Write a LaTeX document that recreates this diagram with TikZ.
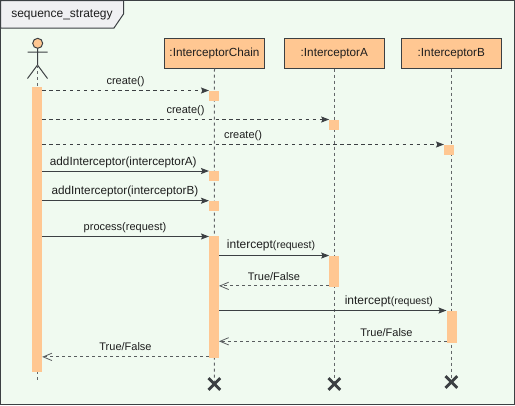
\documentclass[tikz,border=0pt]{standalone}
\usepackage{fontspec}
\setmainfont{Liberation Sans}
\usetikzlibrary{arrows.meta}
\definecolor{bgc}{RGB}{240,250,240}
\definecolor{ink}{RGB}{60,64,67}
\definecolor{act}{RGB}{255,199,146}
\definecolor{tabc}{RGB}{240,240,242}
\definecolor{lbl}{RGB}{30,30,30}
\newcommand{\fsm}{\fontsize{8.25}{10}\selectfont}
\newcommand{\fad}{\fontsize{8.8}{10}\selectfont}
\newcommand{\fmd}{\fontsize{9}{11}\selectfont}
\newcommand{\fsn}{\fontsize{7.9}{10}\selectfont}
\tikzset{
  x=0.75pt,y=-0.75pt,
  part/.style={draw=ink,fill=act,line width=0.75pt,minimum width=75pt,minimum height=22.5pt,inner sep=0pt,outer sep=0pt,text=lbl,font=\fad},
  bar/.style={fill=act,draw=none,minimum width=7.5pt,inner sep=0pt,outer sep=0pt},
  life/.style={draw=ink!80!white,line width=0.75pt,dash pattern=on 2.25pt off 2.25pt},
  msg/.style={draw=ink,line width=0.75pt,-{Stealth[length=6pt,width=4.5pt,inset=1pt,fill=ink]}},
  dmsg/.style={msg,dash pattern=on 2.6pt off 2.6pt},
  rmsg/.style={draw=ink!85!white,line width=0.75pt,dash pattern=on 2.25pt off 2.25pt,-{Straight Barb[length=6.5pt,width=5.5pt,line width=0.6pt]}},
  lab/.style={text=lbl,font=\fsm,inner sep=0pt},
  cross/.style={draw=ink,line width=2.1pt}
}
\begin{document}
\begin{tikzpicture}
\useasboundingbox (0,0) rectangle (515,405);
\fill[white] (0,0) rectangle (515,405);
\draw[draw=ink,fill=bgc,line width=0.75pt] (0.5,0.5) rectangle (514.5,404);
\draw[draw=ink,fill=tabc,line width=0.75pt] (0.5,0.5) -- (123.5,0.5) -- (123.5,14) -- (114,28) -- (0.5,28) -- cycle;
\node[lab,font=\fmd,anchor=west] (title) at (11,15) {sequence\_strategy};
% participants
\node[part] (chain) at (214.5,53.5) {:InterceptorChain};
\node[part] (ia) at (334.3,53.5) {:InterceptorA};
\node[part] (ib) at (451.3,53.5) {:InterceptorB};
% actor
\coordinate (foot) at (37.5,65);
\coordinate (lfoot) at (27.5,78.5);
\coordinate (rfoot) at (47.5,78.5);
\node[circle,draw=ink,fill=act,line width=0.75pt,minimum size=7.5pt,inner sep=0pt,outer sep=0pt] (head) at (37.7,43.3) {};
\coordinate (larm) at (27.5,52);
\coordinate (rarm) at (47.5,52);
\draw[draw=ink,line width=0.75pt] (head.south) -- (foot) (larm) -- (rarm) (lfoot) -- (foot) -- (rfoot);
% end crosses (coordinates)
\coordinate (xc) at (214.3,384);
\coordinate (xa) at (334.3,384);
\coordinate (xb) at (451.3,382);
\coordinate (aend) at (37.5,380);
% lifelines
\draw[life] (foot) -- (aend);
\draw[life] (chain.south) -- (xc);
\draw[life] (ia.south) -- (xa);
\draw[life] (ib.south) -- (xb);
% activations
\node[bar,minimum height=213.4pt] (a0) at (37.2,229.7) {};
\node[bar,minimum height=7.5pt] (c1) at (214,95.5) {};
\node[bar,minimum height=7.5pt] (c2) at (214,176) {};
\node[bar,minimum height=7.5pt] (c3) at (214,205.7) {};
\node[bar,minimum height=91.4pt] (c4) at (214,297.4) {};
\node[bar,minimum height=7.5pt] (a1) at (334.2,124.5) {};
\node[bar,minimum height=23.5pt] (a2) at (334.2,271.2) {};
\node[bar,minimum height=7.5pt] (b1) at (449,149.5) {};
\node[bar,minimum height=24pt] (b2) at (451.5,326.5) {};
% messages
\draw[dmsg] (a0.east |- c1.north west) -- (c1.north west);
\draw[dmsg] (a0.east |- a1.north west) -- (a1.north west);
\draw[dmsg] (a0.east |- b1.north west) -- (b1.north west);
\draw[msg] (a0.east |- c2.north west) -- (c2.north west);
\draw[msg] (a0.east |- c3.north west) -- (c3.north west);
\draw[msg] (a0.east |- c4.north west) -- (c4.north west);
\draw[msg] (c4.east |- a2.north west) -- (a2.north west);
\draw[msg] (c4.east |- b2.north west) -- (b2.north west);
\draw[rmsg] ([yshift=0.75pt]a2.south west) -- ([yshift=0.75pt]c4.east |- a2.south west);
\draw[rmsg] ([yshift=0.9pt]b2.south west) -- ([yshift=0.9pt]c4.east |- b2.south west);
\draw[rmsg] ([yshift=1.1pt]c4.south west) -- ([yshift=1.1pt]a0.east |- c4.south west);
% labels
\node[lab] (l1) at (125.5,81.5) {create()};
\node[lab] (l2) at (185.5,110.5) {create()};
\node[lab] (l3) at (243,135.5) {create()};
\node[lab,font=\fad] (l4) at (123.3,162) {addInterceptor(interceptorA)};
\node[lab,font=\fad] (l5) at (125,191) {addInterceptor(interceptorB)};
\node[lab] (l6) at (125,227.2) {process(request)};
\node[lab,anchor=west] (l7) at (226.7,245.5) {{\fmd intercept}{\fsn (request)}};
\node[lab] (l8) at (274,277) {True/False};
\node[lab,anchor=west] (l9) at (344.5,301) {{\fmd intercept}{\fsn (request)}};
\node[lab] (l10) at (386.5,332.5) {True/False};
\node[lab] (l11) at (125.5,347) {True/False};
% crosses
\foreach \c in {xc,xa,xb}{
  \draw[cross] ([xshift=-4.4pt,yshift=4.4pt]\c) -- ([xshift=4.4pt,yshift=-4.4pt]\c);
  \draw[cross] ([xshift=-4.4pt,yshift=-4.4pt]\c) -- ([xshift=4.4pt,yshift=4.4pt]\c);
}
\end{tikzpicture}
\end{document}
